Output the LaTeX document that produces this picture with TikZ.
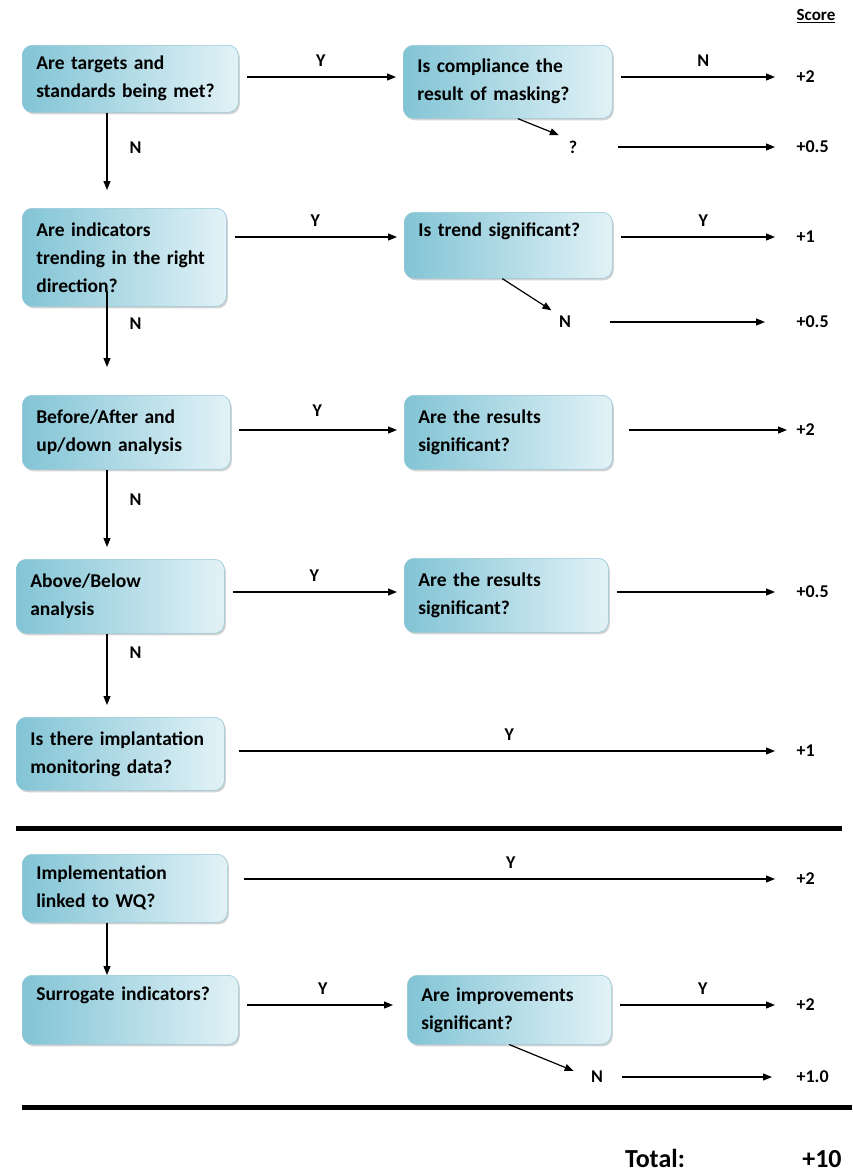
\documentclass[tikz,border=0pt]{standalone}
\usepackage{fontspec}
\setmainfont{Carlito}
\usepackage{tikz}
\usetikzlibrary{arrows.meta,positioning,shadows}

\definecolor{boxdark}{RGB}{130,196,213}
\definecolor{boxlight}{RGB}{226,242,247}
\definecolor{boxedge}{RGB}{150,200,215}

\begin{document}
\begin{tikzpicture}[
  x=1pt, y=-1pt,
  every node/.style={font=\fontsize{18}{20}\selectfont\bfseries, inner sep=2pt},
  box/.style={draw=boxedge, line width=0.6pt, rounded corners=10pt,
              left color=boxdark, right color=boxlight,
              drop shadow={opacity=0.35, shadow xshift=1.5pt, shadow yshift=-2pt},
              anchor=north west, align=left, inner xsep=14pt, inner ysep=2pt,
              font=\fontsize{19.5}{28}\selectfont\bfseries},
  oneline/.style={text depth=32pt},
  score/.style={anchor=west},
  arr/.style={->, shorten <=8pt, shorten >=7pt},
  toscore/.style={->, shorten <=8pt, shorten >=19pt},
  >={Triangle[length=9pt,width=7pt]},
  line width=1.2pt
]
\useasboundingbox (0,0) rectangle (852,1176);

% question boxes
\node[box, minimum width=216pt, minimum height=67pt, text width=188pt] (targets) at (22,45)
  {Are targets and\\standards being met?};
\node[box, minimum width=209pt, minimum height=73pt, text width=181pt] (masking) at (403,45)
  {Is compliance the\\result of masking?};
\node[box, minimum width=204pt, minimum height=98pt, text width=176pt] (trending) at (22,208)
  {Are indicators\\trending in the right\\direction?};
\node[box, oneline, minimum width=208pt, minimum height=66pt, text width=180pt] (trendsig) at (404,212)
  {Is trend significant?};
\node[box, minimum width=208pt, minimum height=74pt, text width=180pt] (beforeafter) at (22,395)
  {Before/After and\\up/down analysis};
\node[box, minimum width=208pt, minimum height=74pt, text width=180pt] (resultsA) at (404,395)
  {Are the results\\significant?};
\node[box, minimum width=208pt, minimum height=74pt, text width=180pt] (abovebelow) at (16,559)
  {Above/Below\\analysis};
\node[box, minimum width=204pt, minimum height=74pt, text width=176pt] (resultsB) at (404,558)
  {Are the results\\significant?};
\node[box, minimum width=208pt, minimum height=73pt, text width=180pt] (monitoring) at (16,717)
  {Is there implantation\\monitoring data?};
\node[box, minimum width=205pt, minimum height=68pt, text width=177pt] (linked) at (22,854)
  {Implementation\\linked to WQ?};
\node[box, oneline, minimum width=216pt, minimum height=69pt, text width=188pt] (surrogate) at (22,975)
  {Surrogate indicators?};
\node[box, minimum width=204pt, minimum height=69pt, text width=176pt] (improve) at (407,975)
  {Are improvements\\significant?};

% side answers
\node (q1) at (573,147) {?};
\node (n2) at (565,322) {N};
\node (n3) at (597,1077) {N};

% scores
\node[font=\fontsize{17}{19}\selectfont\bfseries] (scorehead) at (816,16) {\underline{Score}};
\node[score] (s1)  at (794,77)   {+2};
\node[score] (s2)  at (794,147)  {+0.5};
\node[score] (s3)  at (794,237)  {+1};
\node[score] (s4)  at (794,322)  {+0.5};
\node[score] (s5)  at (794,430)  {+2};
\node[score] (s6)  at (794,592)  {+0.5};
\node[score] (s7)  at (794,751)  {+1};
\node[score] (s8)  at (794,879)  {+2};
\node[score] (s9)  at (794,1005) {+2};
\node[score] (s10) at (794,1077) {+1.0};

% going down the left column
\coordinate (col) at (107,0);
\draw[->, shorten >=18pt] (targets.south -| col) -- node[pos=0.37, right=20pt]{N} (trending.north -| col);
\draw[->, shorten <=-16pt, shorten >=28pt] (trending.south -| col) -- node[pos=0.19, right=20pt]{N} (beforeafter.north -| col);
\draw[->, shorten >=12pt] (beforeafter.south -| col) -- node[pos=0.34, right=20pt]{N} (abovebelow.north -| col);
\draw[->, shorten >=12pt] (abovebelow.south -| col) -- node[pos=0.23, right=20pt]{N} (monitoring.north -| col);
\draw[->] (linked.south -| col) -- (surrogate.north -| col);

% yes branches
\draw[arr] (targets.east |- s1.west) -- node[above=8pt]{Y} (masking.west |- s1.west);
\draw[arr] (trending.east |- s3.west) -- node[above=8pt]{Y} (trendsig.west |- s3.west);
\draw[arr] (beforeafter.east |- s5.west) -- node[above=11pt]{Y} (resultsA.west |- s5.west);
\draw[arr] (abovebelow.east |- s6.west) -- node[above=8pt]{Y} (resultsB.west |- s6.west);
\draw[arr, shorten >=14pt] (surrogate.east |- s9.west) -- node[above=8pt]{Y} (improve.west |- s9.west);

% to the scores
\draw[toscore] (masking.east |- s1.west) -- node[above=8pt]{N} (s1.west);
\draw[toscore, shorten <=38pt] (q1.east) -- (s2.west);
\draw[toscore] (trendsig.east |- s3.west) -- node[above=8pt]{Y} (s3.west);
\draw[toscore, shorten <=36pt, shorten >=29pt] (n2.east) -- (s4.west);
\draw[toscore, shorten <=16pt, shorten >=7pt] (resultsA.east |- s5.west) -- (s5.west);
\draw[toscore] (resultsB.east |- s6.west) -- (s6.west);
\draw[toscore, shorten <=14pt] (monitoring.east |- s7.west) -- node[above=8pt]{Y} (s7.west);
\draw[toscore, shorten <=16pt] (linked.east |- s8.west) -- node[above=8pt]{Y} (s8.west);
\draw[toscore] (improve.east |- s9.west) -- node[above=8pt]{Y} (s9.west);
\draw[toscore, shorten <=16pt, shorten >=22pt] (n3.east) -- (s10.west);

% diagonal branches
\draw[->, shorten >=8pt] ([xshift=10pt]masking.south) -- (q1.north west);
\draw[->, shorten >=6pt] ([xshift=-6pt]trendsig.south) -- (n2.north west);
\draw[->, shorten >=16pt] (improve.south) -- (n3.west);

% separators and total
\draw[line width=5pt] (16,828) -- (842,828);
\draw[line width=5pt] (22,1107) -- (852,1107);
\node[font=\fontsize{26}{30}\selectfont\bfseries, anchor=base, inner sep=0pt] (total) at (655,1167) {Total:};
\node[font=\fontsize{26}{30}\selectfont\bfseries, anchor=base, inner sep=0pt] (totalval) at (822,1167) {+10};
\end{tikzpicture}
\end{document}
